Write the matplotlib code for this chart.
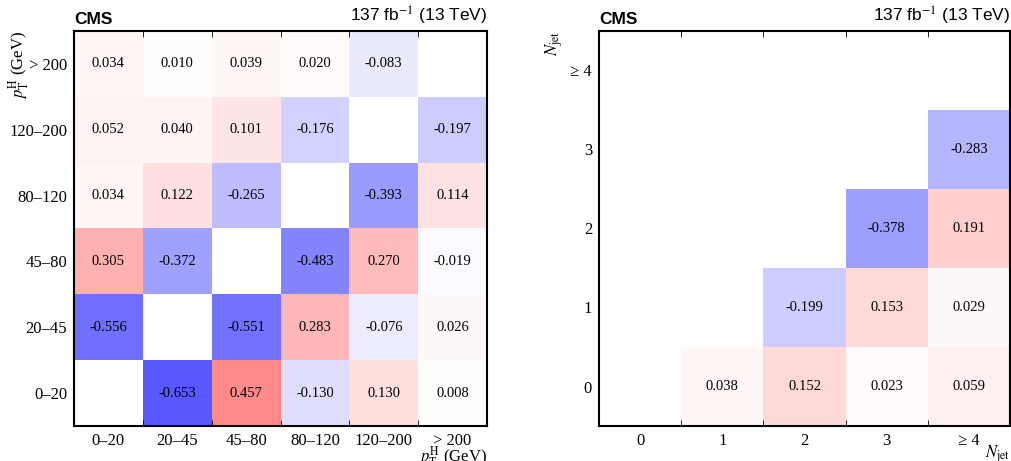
import numpy as np
import matplotlib.pyplot as plt

# ---------- data ----------
pt_labels = ["0\u201320", "20\u201345", "45\u201380", "80\u2013120", "120\u2013200", "> 200"]
# rows from bottom (0-20) to top (>200); NaN = empty cell
pt_corr = [
    [np.nan, -0.653, 0.457, -0.130, 0.130, 0.008],
    [-0.556, np.nan, -0.551, 0.283, -0.076, 0.026],
    [0.305, -0.372, np.nan, -0.483, 0.270, -0.019],
    [0.034, 0.122, -0.265, np.nan, -0.393, 0.114],
    [0.052, 0.040, 0.101, -0.176, np.nan, -0.197],
    [0.034, 0.010, 0.039, 0.020, -0.083, np.nan],
]

nj_labels = ["0", "1", "2", "3", "\u2265 4"]
nj_corr = [
    [np.nan, 0.038, 0.152, 0.023, 0.059],
    [np.nan, np.nan, -0.199, 0.153, 0.029],
    [np.nan, np.nan, np.nan, -0.378, 0.191],
    [np.nan, np.nan, np.nan, np.nan, -0.283],
    [np.nan, np.nan, np.nan, np.nan, np.nan],
]

SERIF = "Liberation Serif"
SANS = "Liberation Sans"
plt.rcParams["mathtext.fontset"] = "stix"

fig = plt.figure(figsize=(10.11, 4.61), dpi=100)
ax1 = fig.add_axes([0.0732, 0.0759, 0.4085, 0.857])
ax2 = fig.add_axes([0.5925, 0.0759, 0.4065, 0.857])


def draw(ax, mat, labels, xlab, ylab, ylab_x):
    mat = np.array(mat, dtype=float)
    n = len(labels)
    edges = np.arange(n + 1)
    ax.pcolormesh(edges, edges, np.ma.masked_invalid(mat), cmap="bwr",
                  vmin=-1, vmax=1)
    for i in range(n):
        for j in range(n):
            v = mat[i, j]
            if not np.isnan(v):
                ax.text(j + 0.5, i + 0.5, f"{v:.3f}", ha="center", va="center",
                        fontsize=10.5, family=SERIF)
    ax.set_xlim(0, n)
    ax.set_ylim(0, n)
    ax.set_xticks(np.arange(n) + 0.5)
    ax.set_yticks(np.arange(n) + 0.5)
    ax.set_xticklabels(labels, family=SERIF, fontsize=12)
    ax.set_yticklabels(labels, family=SERIF, fontsize=12)
    ax.tick_params(which="major", length=0, pad=5)
    ax.set_xticks(edges, minor=True)
    ax.set_yticks(edges, minor=True)
    ax.tick_params(which="minor", direction="in", length=4, top=True,
                   bottom=True, left=False, right=False)
    for s in ax.spines.values():
        s.set_linewidth(1.5)
    ax.text(0.0, 1.01, "CMS", transform=ax.transAxes, ha="left", va="bottom",
            fontsize=12.5, fontweight="bold", family=SANS)
    ax.text(1.0, 1.01, r"137 fb$^{-1}$ (13 TeV)", transform=ax.transAxes,
            ha="right", va="bottom", fontsize=12.5, family=SANS)
    ax.text(1.0, -0.045, xlab, transform=ax.transAxes, ha="right", va="top",
            fontsize=12, family=SERIF)
    ax.text(ylab_x, 1.0, ylab, transform=ax.transAxes, ha="center", va="top",
            rotation=90, fontsize=12, family=SERIF)


draw(ax1, pt_corr, pt_labels, r"$p_{\mathrm{T}}^{\mathrm{H}}$ (GeV)",
     r"$p_{\mathrm{T}}^{\mathrm{H}}$ (GeV)", -0.135)
draw(ax2, nj_corr, nj_labels, r"$N_{\mathrm{jet}}$", r"$N_{\mathrm{jet}}$", -0.11)

fig.savefig("out.png", dpi=100)
